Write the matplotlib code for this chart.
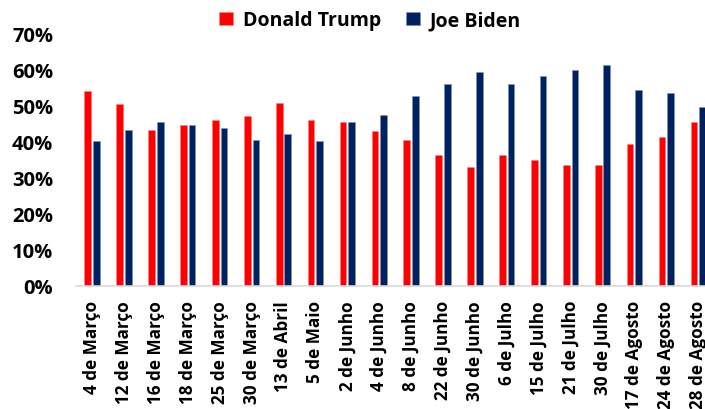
import numpy as np
from matplotlib import pyplot as plt
from matplotlib.ticker import PercentFormatter

dates = ['4 de Março', '12 de Março', '16 de Março', '18 de Março', '25 de Março',
         '30 de Março', '13 de Abril', '5 de Maio', '2 de Junho', '4 de Junho',
         '8 de Junho', '22 de Junho', '30 de Junho', '6 de Julho', '15 de Julho',
         '21 de Julho', '30 de Julho', '17 de Agosto', '24 de Agosto', '28 de Agosto']

trump = [0.54, 0.505, 0.433, 0.447, 0.46, 0.472, 0.508, 0.46, 0.455, 0.43,
         0.405, 0.364, 0.33, 0.364, 0.35, 0.335, 0.335, 0.395, 0.413, 0.455]
biden = [0.403, 0.433, 0.455, 0.447, 0.439, 0.405, 0.422, 0.403, 0.455, 0.475,
         0.528, 0.56, 0.595, 0.56, 0.584, 0.60, 0.613, 0.543, 0.536, 0.497]

plt.rcParams['font.family'] = ['Open Sans', 'DejaVu Sans']
plt.rcParams['font.weight'] = 'bold'

fig = plt.figure(figsize=(7.05, 4.10), dpi=100)
# the category axis runs a little past the right edge of the figure
ax = fig.add_axes([0.108, 0.300, 0.905, 0.615])

x = np.arange(len(dates))
w = 0.21
off = 0.134
ax.bar(x - off, trump, w, color='#FF0000', edgecolor='#FF8080', linewidth=0.4,
       label='Donald Trump')
ax.bar(x + off, biden, w, color='#002060', edgecolor='#8090B0', linewidth=0.4,
       label='Joe Biden')

ax.set_xlim(-0.5, len(dates) - 0.5)
ax.set_ylim(0, 0.7)
ax.set_yticks(np.arange(0, 0.71, 0.1))
ax.yaxis.set_major_formatter(PercentFormatter(1.0, decimals=0))
ax.set_xticks(x)
ax.set_xticklabels(dates, rotation=90, fontsize=12.3, fontweight='bold')
ax.tick_params(axis='y', labelsize=14.5, length=0, pad=16.5)
ax.tick_params(axis='x', length=0, pad=10)

for s in ['top', 'right', 'left']:
    ax.spines[s].set_visible(False)
ax.spines['bottom'].set_color('#D9D9D9')
ax.spines['bottom'].set_linewidth(1.2)

fig.legend(loc='center', bbox_to_anchor=(0.525, 0.948), ncol=2, frameon=False,
           handlelength=0.7, handleheight=0.7, handletextpad=0.5,
           columnspacing=1.3, prop={'weight': 'bold', 'size': 14})

fig.savefig('out.png', dpi=100)
